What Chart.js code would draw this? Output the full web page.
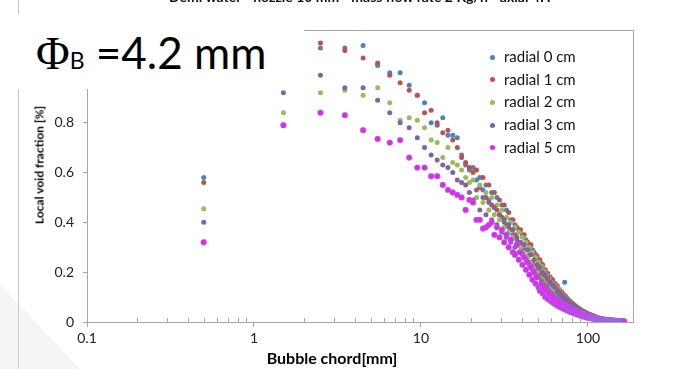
<!DOCTYPE html>
<html>
<head>
<meta charset="utf-8">
<script src="https://cdn.jsdelivr.net/npm/chart.js@4.4.1/dist/chart.umd.min.js"></script>
<style>
  html, body { margin: 0; padding: 0; background: #fff; }
  #wrap { position: relative; width: 689px; height: 369px; overflow: hidden; font-family: Lato, "Open Sans", sans-serif; }
  #chart { position: absolute; left: 0; top: 0; z-index: 2; }
  .vline { position: absolute; left: 18px; top: 0; width: 1px; height: 369px; background: #c8c8c8; z-index: 1; }
  .shade { position: absolute; left: 0; top: 285px; width: 80px; height: 84px; background: #f5f5f5; clip-path: polygon(0 0, 100% 100%, 0 100%); z-index: 0; }
  .toptitle { position: absolute; left: 169px; top: -12px; font: bold 14px Lato, sans-serif; white-space: nowrap; color: #111; z-index: 3; }
  .phibox { position: absolute; left: 0; top: 14px; width: 304px; height: 75px; background: #fff; z-index: 4; }
  .phi { position: absolute; left: 36px; top: 12px; white-space: nowrap; color: #000; line-height: 1; }
  .phi .g { font: 46px "Liberation Serif", serif; }
  .phi .b { font: 23px Lato, sans-serif; }
  .phi .t { font: 44px Lato, sans-serif; }
  .legend { position: absolute; left: 488px; top: 45px; z-index: 3; font: 15px Lato, sans-serif; color: #111; }
  .legend div { height: 22.7px; line-height: 22.7px; white-space: nowrap; }
  .legend span.dot { display: inline-block; width: 5px; height: 5px; border-radius: 50%; margin: 0 9px 2px 2px; vertical-align: middle; }
  .ytitle { position: absolute; left: 39px; top: 165px; transform: translate(-50%, -50%) rotate(-90deg); font: bold 12px Lato, sans-serif; white-space: nowrap; color: #000; z-index: 3; }
  .xtitle { position: absolute; left: 332px; top: 357px; transform: translate(-50%, -50%); font: bold 16px Lato, sans-serif; white-space: nowrap; color: #000; z-index: 3; }
</style>
</head>
<body>
<div id="wrap">
  <div class="shade"></div>
  <div class="vline"></div>
  <canvas id="chart" width="689" height="369"></canvas>
  <div class="toptitle">Demi water - nozzle 10 mm - mass flow rate 2 Kg/h - axial 4H</div>
  <div class="phibox"><div class="phi"><span class="g">Φ</span><span class="b">B</span><span class="t"> =4.2 mm</span></div></div>
  <div class="legend" id="legend"></div>
  <div class="ytitle">Local void fraction [%]</div>
  <div class="xtitle">Bubble chord[mm]</div>
</div>
<script>
// bubble chord bins [mm]
var chordMm = [
  0.5, 1.5, 2.5, 3.5, 4.5, 5.5, 6.5, 7.5, 8.5, 9.5,
  10.5, 11.5, 12.5, 13.5, 14.5, 15.5, 16.5, 17.5, 18.5, 19.5,
  20.5, 21.5, 22.5, 23.5, 24.5, 25.5, 26.5, 27.5, 28.5, 29.5,
  30.5, 31.5, 32.5, 33.5, 34.5, 35.5, 36.5, 37.5, 38.5, 39.5,
  40.5, 41.5, 42.5, 43.5, 44.5, 45.5, 46.5, 47.5, 48.5, 49.5,
  50.5, 51.5, 52.5, 53.5, 54.5, 55.5, 56.5, 57.5, 58.5, 59.5,
  60.5, 61.5, 62.5, 63.5, 64.5, 65.5, 66.5, 67.5, 68.5, 69.5,
  70.5, 71.5, 72.5, 73.5, 74.5, 75.5, 76.5, 77.5, 78.5, 79.5,
  80.5, 81.5, 82.5, 83.5, 84.5, 85.5, 86.5, 87.5, 88.5, 89.5,
  90.5, 91.5, 92.5, 93.5, 94.5, 95.5, 96.5, 97.5, 98.5, 99.5,
  100.5, 101.5, 102.5, 103.5, 104.5, 105.5, 106.5, 107.5, 108.5, 109.5,
  110.5, 111.5, 112.5, 113.5, 114.5, 115.5, 116.5, 117.5, 118.5, 119.5,
  120.5, 121.5, 122.5, 123.5, 124.5, 125.5, 126.5, 127.5, 128.5, 129.5,
  130.5, 131.5, 132.5, 133.5, 134.5, 135.5, 136.5, 137.5, 138.5, 139.5,
  140.5, 141.5, 142.5, 143.5, 144.5, 145.5, 146.5, 147.5, 148.5, 149.5,
  150.5, 151.5, 152.5, 153.5, 154.5, 155.5, 156.5, 157.5, 158.5, 159.5,
  160.5, 161.5, 162.5, 163.5, 164.5
];

var radial0 = [
  0.58, null, 1.10, 1.10, 1.11, 1.03, 1.00, 1.00, 0.95, 0.91,
  0.88, 0.80, 0.79, 0.82, 0.75, 0.75, 0.74, 0.67, 0.63, 0.61,
  0.62, 0.57, 0.58, 0.53, 0.55, 0.49, 0.52, 0.46, 0.50, 0.43,
  0.47, 0.40, 0.45, 0.38, 0.41, 0.35, 0.39, 0.33, 0.37, 0.31,
  0.35, 0.29, 0.33, 0.26, 0.31, 0.24, 0.29, 0.22, 0.27, 0.21,
  0.25, 0.19, 0.235, 0.17, 0.21, 0.155, 0.19, 0.14, 0.175, 0.13,
  0.16, 0.12, 0.15, 0.11, 0.14, 0.10, 0.125, 0.09, 0.115, 0.085,
  0.105, 0.08, 0.16, 0.075, 0.095, 0.068, 0.085, 0.06, 0.076, 0.055,
  0.068, 0.05, 0.063, 0.045, 0.058, 0.041, 0.052, 0.037, 0.047, 0.033,
  0.043, 0.03, 0.04, 0.027, 0.037, 0.025, 0.033, 0.022, 0.03, 0.02,
  0.027, 0.018, 0.025, 0.016, 0.023, 0.015, 0.021, 0.014, 0.019, 0.013,
  0.018, 0.017, 0.016, 0.015, 0.015, 0.014, 0.013, 0.013, 0.012, 0.012,
  0.012, 0.011, 0.011, 0.01, 0.01, 0.009, 0.009, 0.009, 0.008, 0.008,
  0.008, 0.008, 0.007, 0.007, 0.007, 0.007, 0.006, 0.006, 0.006, 0.006,
  0.006, 0.005, 0.005, 0.005, 0.005, 0.005, 0.004, 0.004, 0.004, 0.004,
  0.004, 0.004, 0.004, 0.003, 0.003, 0.003, 0.003, 0.003, 0.003, 0.003,
  0.003, 0.003, 0.002, 0.002, 0.002
];

var radial1 = [
  0.56, null, 1.12, 1.09, 1.06, 1.04, 0.99, 0.96, 0.93, 0.91,
  0.84, 0.85, 0.80, 0.76, 0.77, 0.73, 0.70, 0.66, 0.64, 0.62,
  0.60, 0.61, 0.54, 0.58, 0.50, 0.55, 0.47, 0.52, 0.45, 0.49,
  0.42, 0.47, 0.39, 0.44, 0.37, 0.41, 0.35, 0.38, 0.32, 0.37,
  0.31, 0.35, 0.29, 0.32, 0.27, 0.31, 0.24, 0.28, 0.225, 0.265,
  0.21, 0.25, 0.19, 0.23, 0.175, 0.21, 0.16, 0.195, 0.145, 0.18,
  0.135, 0.17, 0.12, 0.155, 0.11, 0.145, 0.10, 0.13, 0.092, 0.12,
  0.085, 0.11, 0.078, 0.102, 0.072, 0.093, 0.066, 0.085, 0.06, 0.078,
  0.056, 0.072, 0.05, 0.066, 0.047, 0.06, 0.042, 0.056, 0.039, 0.051,
  0.036, 0.047, 0.033, 0.043, 0.03, 0.04, 0.028, 0.037, 0.025, 0.034,
  0.024, 0.031, 0.022, 0.029, 0.02, 0.027, 0.018, 0.025, 0.017, 0.023,
  0.02, 0.019, 0.018, 0.017, 0.017, 0.016, 0.015, 0.015, 0.014, 0.013,
  0.013, 0.012, 0.012, 0.011, 0.011, 0.01, 0.01, 0.01, 0.009, 0.009,
  0.009, 0.008, 0.008, 0.008, 0.007, 0.007, 0.007, 0.007, 0.006, 0.006,
  0.006, 0.006, 0.005, 0.005, 0.005, 0.005, 0.005, 0.004, 0.004, 0.004,
  0.004, 0.004, 0.004, 0.003, 0.003, 0.003, 0.003, 0.003, 0.003, 0.003,
  0.003, 0.002, 0.002, 0.002, 0.002
];

var radial2 = [
  0.455, 0.84, 0.92, 0.93, 0.91, 0.94, 0.88, 0.81, 0.82, 0.81,
  0.78, 0.73, 0.72, 0.66, 0.70, 0.64, 0.63, 0.61, 0.58, 0.56,
  0.57, 0.50, 0.55, 0.48, 0.52, 0.45, 0.50, 0.43, 0.47, 0.41,
  0.45, 0.38, 0.42, 0.36, 0.40, 0.34, 0.38, 0.31, 0.36, 0.30,
  0.34, 0.28, 0.32, 0.26, 0.30, 0.24, 0.28, 0.22, 0.26, 0.20,
  0.24, 0.18, 0.225, 0.17, 0.205, 0.155, 0.19, 0.14, 0.175, 0.13,
  0.16, 0.12, 0.15, 0.105, 0.14, 0.095, 0.13, 0.088, 0.115, 0.08,
  0.105, 0.073, 0.097, 0.066, 0.088, 0.06, 0.08, 0.055, 0.073, 0.05,
  0.066, 0.046, 0.061, 0.042, 0.056, 0.038, 0.051, 0.035, 0.047, 0.032,
  0.044, 0.03, 0.04, 0.027, 0.037, 0.025, 0.034, 0.023, 0.031, 0.021,
  0.029, 0.02, 0.026, 0.018, 0.024, 0.017, 0.022, 0.016, 0.02, 0.015,
  0.019, 0.018, 0.017, 0.016, 0.016, 0.015, 0.014, 0.014, 0.013, 0.013,
  0.013, 0.012, 0.011, 0.011, 0.01, 0.01, 0.01, 0.009, 0.009, 0.008,
  0.008, 0.008, 0.008, 0.007, 0.007, 0.007, 0.007, 0.006, 0.006, 0.006,
  0.006, 0.005, 0.005, 0.005, 0.005, 0.005, 0.004, 0.004, 0.004, 0.004,
  0.004, 0.004, 0.003, 0.003, 0.003, 0.003, 0.003, 0.003, 0.003, 0.003,
  0.003, 0.003, 0.002, 0.002, 0.002
];

var radial3 = [
  0.40, 0.92, 0.99, 0.94, 0.94, 0.89, 0.84, 0.80, 0.78, 0.74,
  0.70, 0.67, 0.65, 0.63, 0.62, 0.60, 0.57, 0.56, 0.55, 0.52,
  0.49, 0.53, 0.45, 0.50, 0.43, 0.48, 0.41, 0.46, 0.39, 0.43,
  0.36, 0.41, 0.34, 0.39, 0.32, 0.37, 0.30, 0.34, 0.28, 0.32,
  0.27, 0.31, 0.25, 0.29, 0.23, 0.27, 0.21, 0.25, 0.19, 0.23,
  0.18, 0.22, 0.165, 0.20, 0.15, 0.19, 0.14, 0.175, 0.125, 0.16,
  0.115, 0.15, 0.105, 0.14, 0.097, 0.13, 0.09, 0.118, 0.083, 0.108,
  0.077, 0.098, 0.07, 0.09, 0.064, 0.083, 0.059, 0.076, 0.054, 0.07,
  0.05, 0.065, 0.046, 0.06, 0.042, 0.055, 0.039, 0.051, 0.036, 0.047,
  0.033, 0.044, 0.031, 0.041, 0.028, 0.038, 0.026, 0.035, 0.024, 0.032,
  0.022, 0.029, 0.021, 0.027, 0.019, 0.025, 0.018, 0.023, 0.016, 0.021,
  0.017, 0.016, 0.015, 0.015, 0.014, 0.013, 0.013, 0.012, 0.012, 0.011,
  0.012, 0.011, 0.01, 0.01, 0.01, 0.009, 0.009, 0.008, 0.008, 0.008,
  0.008, 0.007, 0.007, 0.007, 0.006, 0.006, 0.006, 0.006, 0.006, 0.005,
  0.006, 0.005, 0.005, 0.005, 0.004, 0.004, 0.004, 0.004, 0.004, 0.004,
  0.004, 0.003, 0.003, 0.003, 0.003, 0.003, 0.003, 0.003, 0.002, 0.002,
  0.003, 0.002, 0.002, 0.002, 0.002
];

var radial5 = [
  0.32, 0.79, 0.84, 0.83, 0.77, 0.735, 0.72, 0.73, 0.66, 0.62,
  0.62, 0.585, 0.585, 0.55, 0.53, 0.52, 0.51, 0.50, 0.45, 0.49,
  0.48, 0.41, 0.41, 0.375, 0.38, 0.39, 0.40, 0.35, 0.38, 0.34,
  0.37, 0.32, 0.35, 0.30, 0.33, 0.28, 0.27, 0.31, 0.25, 0.28,
  0.23, 0.26, 0.21, 0.24, 0.19, 0.22, 0.17, 0.20, 0.155, 0.18,
  0.14, 0.125, 0.15, 0.115, 0.135, 0.10, 0.125, 0.092, 0.115, 0.085,
  0.105, 0.078, 0.095, 0.072, 0.09, 0.066, 0.083, 0.061, 0.078, 0.057,
  0.072, 0.053, 0.067, 0.049, 0.062, 0.046, 0.058, 0.042, 0.054, 0.039,
  0.05, 0.037, 0.047, 0.034, 0.044, 0.032, 0.041, 0.029, 0.038, 0.027,
  0.035, 0.025, 0.033, 0.023, 0.031, 0.021, 0.029, 0.019, 0.027, 0.018,
  0.024, 0.017, 0.022, 0.016, 0.02, 0.015, 0.018, 0.014, 0.017, 0.012,
  0.015, 0.014, 0.013, 0.013, 0.012, 0.012, 0.011, 0.011, 0.01, 0.01,
  0.01, 0.01, 0.009, 0.009, 0.009, 0.008, 0.008, 0.008, 0.007, 0.007,
  0.007, 0.007, 0.006, 0.006, 0.006, 0.006, 0.006, 0.005, 0.005, 0.005,
  0.005, 0.005, 0.005, 0.004, 0.004, 0.004, 0.004, 0.004, 0.004, 0.003,
  0.003, 0.003, 0.003, 0.003, 0.003, 0.003, 0.003, 0.003, 0.003, 0.002,
  0.003, 0.002, 0.002, 0.002, 0.003
];

var seriesNames = ['radial 0 cm', 'radial 1 cm', 'radial 2 cm', 'radial 3 cm', 'radial 5 cm'];
var seriesValues = [radial0, radial1, radial2, radial3, radial5];
var seriesColors = ['#4F81BD', '#C0504D', '#9BBB59', '#8064A2', '#EE22EE'];

var xMajorTicks = [0.1, 1, 10, 100];
var yTicks = [0, 0.2, 0.4, 0.6, 0.8, 1.0];

var axisGray = '#a6a6a6';

// legend (html, inside plot)
var legendEl = document.getElementById('legend');
for (var i = 0; i < seriesNames.length; i++) {
  legendEl.innerHTML += '<div><span class="dot" style="background:' + seriesColors[i] + '"></span>' + seriesNames[i] + '</div>';
}

var datasets = seriesValues.map(function(vals, i) {
  return {
    label: seriesNames[i],
    data: chordMm.map(function(x, k) { return { x: x, y: vals[k] }; }),
    backgroundColor: seriesColors[i],
    borderColor: i === 4 ? 'rgba(90,160,220,0.55)' : seriesColors[i],
    borderWidth: i === 4 ? 0.8 : 0,
    pointRadius: i === 4 ? 2.9 : 2.5,
    order: seriesNames.length - 1 - i
  };
});

// plot frame + minor log ticks
var frame = {
  id: 'frame',
  beforeDatasetsDraw: function(chart) {
    var a = chart.chartArea, ctx = chart.ctx, xs = chart.scales.x;
    ctx.save();
    ctx.strokeStyle = axisGray;
    ctx.lineWidth = 1;
    ctx.beginPath();
    ctx.moveTo(a.left, a.top + 0.5);
    ctx.lineTo(a.right + 0.5, a.top + 0.5);
    ctx.lineTo(a.right + 0.5, a.bottom);
    ctx.stroke();
    ctx.beginPath();
    xMajorTicks.forEach(function(m) {
      for (var k = 2; k <= 9; k++) {
        var v = m * k;
        if (v > xs.max) continue;
        var px = Math.round(xs.getPixelForValue(v)) + 0.5;
        ctx.moveTo(px, a.bottom);
        ctx.lineTo(px, a.bottom - 4);
      }
    });
    ctx.stroke();
    ctx.restore();
  }
};

new Chart(document.getElementById('chart'), {
  type: 'scatter',
  data: { datasets: datasets },
  plugins: [frame],
  options: {
    responsive: false,
    animation: false,
    layout: { padding: { left: 0, top: 30, right: 56, bottom: 0 } },
    plugins: { legend: { display: false }, tooltip: { enabled: false } },
    scales: {
      x: {
        type: 'logarithmic',
        min: 0.1,
        max: 186,
        afterBuildTicks: function(scale) {
          scale.ticks = xMajorTicks.map(function(v) { return { value: v, major: true }; });
        },
        afterFit: function(scale) { scale.height = 47; },
        ticks: {
          autoSkip: false,
          maxRotation: 0,
          padding: 3,
          color: '#222',
          font: { family: 'Lato', size: 14 },
          callback: function(v) { return String(v); }
        },
        grid: { drawOnChartArea: false, drawTicks: true, tickLength: 5, tickColor: axisGray },
        border: { color: axisGray }
      },
      y: {
        type: 'linear',
        min: 0,
        max: 1.172,
        afterBuildTicks: function(scale) {
          scale.ticks = yTicks.map(function(v) { return { value: v }; });
        },
        afterFit: function(scale) { scale.width = 87; },
        ticks: {
          padding: 9,
          color: '#222',
          font: { family: 'Lato', size: 14 },
          callback: function(v) { return v === 0 ? '0' : v.toFixed(1); }
        },
        grid: { drawOnChartArea: false, drawTicks: true, tickLength: 4, tickColor: axisGray },
        border: { color: axisGray }
      }
    }
  }
});
</script>
</body>
</html>
